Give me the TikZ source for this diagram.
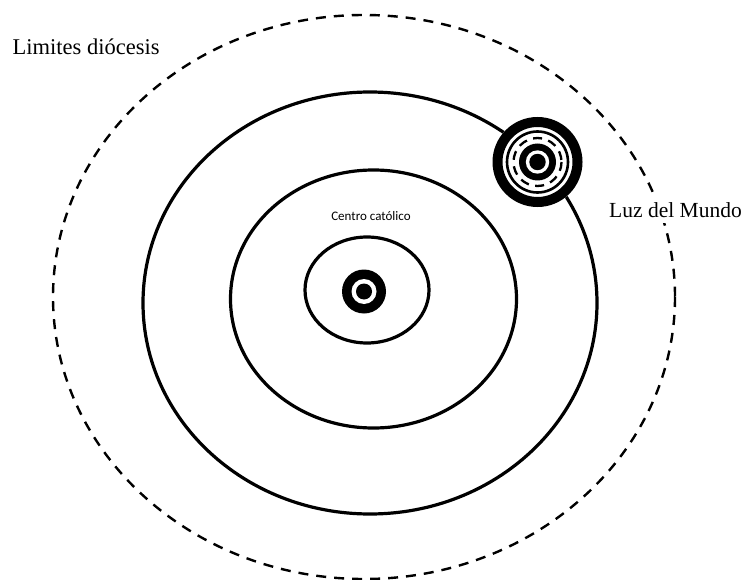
\documentclass[tikz,border=0pt]{standalone}
\usepackage{fontspec}
\setmainfont{Liberation Serif}
\newfontfamily\calib{Carlito}
\begin{document}
\begin{tikzpicture}[x=1pt,y=-1pt,
  solidring/.style={draw=black,line width=3.2pt},
  dashring/.style={draw=black,line width=2.4pt,dash pattern=on 10pt off 8pt},
  lbl/.style={inner sep=0pt,anchor=base west,font=\fontsize{22.5}{26}\selectfont}]
\useasboundingbox[fill=white] (0,0) rectangle (749,580);
% outer dashed boundary
\draw[dashring] (364,297) ellipse [x radius=311, y radius=282];
% solid ellipses
\draw[solidring] (370,303) ellipse [x radius=227, y radius=211];
\draw[solidring] (373.5,299) ellipse [x radius=143, y radius=129];
\draw[solidring] (367,290) ellipse [x radius=62, y radius=53];
% central target
\coordinate (cc) at (364,291.5);
\fill[black] (cc) circle (22);
\fill[white] (cc) circle (12.5);
\fill[black] (cc) circle (8);
% Luz del Mundo cluster
\coordinate (lz) at (537.5,162);
\fill[white] (lz) circle (45);
\draw[black,line width=10pt] (lz) circle (40);
\draw[black,line width=2.6pt] (lz) circle (30.5);
\draw[black,line width=2.3pt,dash pattern=on 9pt off 6.5pt] (lz) circle (24);
\fill[black] (lz) circle (18.5);
\fill[white] (lz) circle (11.7);
\fill[black] (lz) circle (8.2);
% labels
\node[lbl] (lim) at (12.5,55) {Limites diócesis};
\node[lbl,fill=white,inner xsep=1pt,inner ysep=6pt,font=\fontsize{21.5}{25}\selectfont] (luz) at (608,217) {Luz del Mundo};
\node[inner sep=0pt,anchor=base,font=\calib\fontsize{13}{15}\selectfont] (cen) at (371,220) {Centro católico};
\end{tikzpicture}
\end{document}
